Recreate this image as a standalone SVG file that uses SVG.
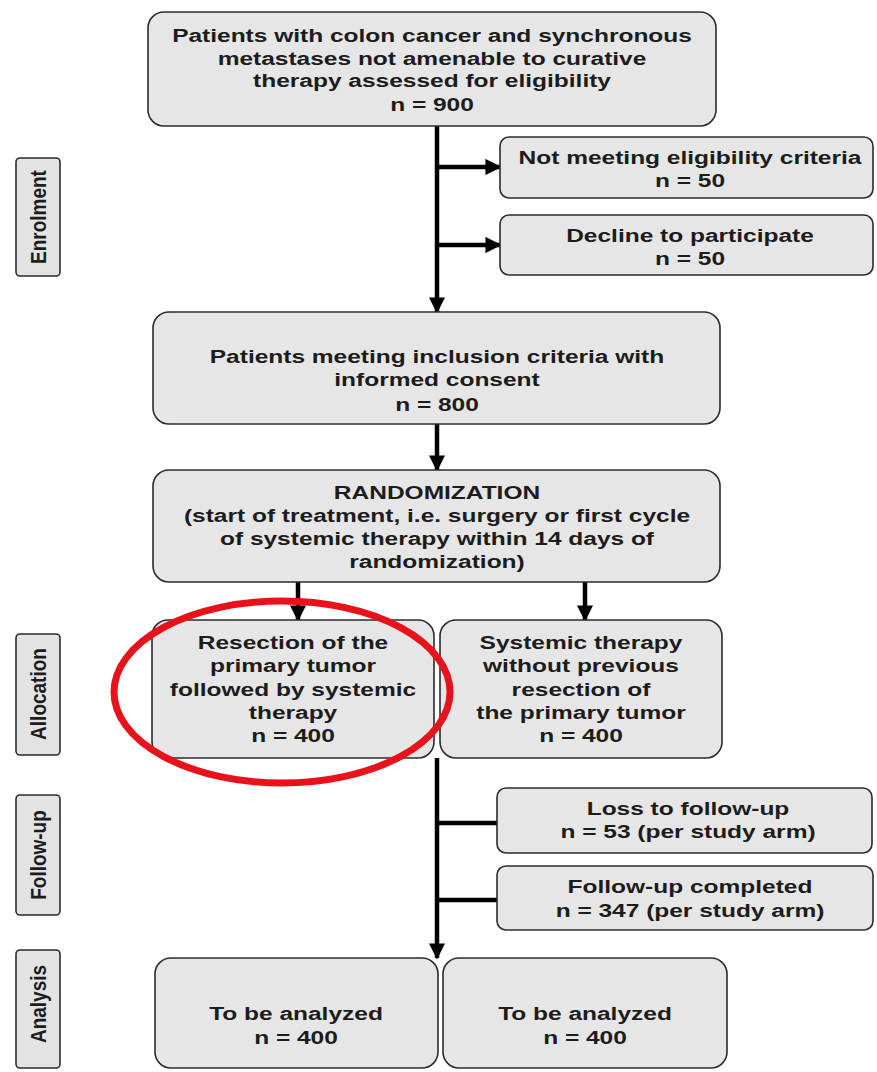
<svg xmlns="http://www.w3.org/2000/svg" width="877" height="1072" viewBox="0 0 877 1072">
<style>
.box{fill:#e6e6e6;stroke:#2b2b2b;stroke-width:1.6}
.side{fill:#e3e3e3;stroke:#2b2b2b;stroke-width:1.6}
.t{font-family:"Liberation Sans",Arial,sans-serif;font-weight:bold;font-size:19px;fill:#1c1c1c;text-anchor:middle}
.st{font-family:"Liberation Sans",Arial,sans-serif;font-weight:bold;font-size:19px;fill:#1c1c1c;text-anchor:middle}
.ln{stroke:#000;stroke-width:4.5;fill:none}
</style>
<defs>
<marker id="ah" viewBox="0 0 10 10" refX="9" refY="5" markerWidth="3.6" markerHeight="3.6" markerUnits="strokeWidth" orient="auto">
<path d="M0,0 L10,5 L0,10 Z" fill="#000"/>
</marker>
</defs>

<g id="connectors">
<line class="ln" x1="437" y1="126" x2="437" y2="312" marker-end="url(#ah)"/>
<line class="ln" x1="437" y1="167" x2="500" y2="167" marker-end="url(#ah)"/>
<line class="ln" x1="437" y1="245" x2="500" y2="245" marker-end="url(#ah)"/>
<line class="ln" x1="437" y1="424" x2="437" y2="470" marker-end="url(#ah)"/>
<line class="ln" x1="298" y1="582" x2="298" y2="620" marker-end="url(#ah)"/>
<line class="ln" x1="585" y1="582" x2="585" y2="620" marker-end="url(#ah)"/>
<line class="ln" x1="437" y1="758" x2="437" y2="958" marker-end="url(#ah)"/>
<line class="ln" x1="437" y1="823" x2="497" y2="823"/>
<line class="ln" x1="437" y1="900" x2="497" y2="900"/>
</g>

<g id="label-enrolment">
<rect class="side" x="16" y="158" width="44" height="118" rx="4"/>
<text class="st" transform="translate(38,217) scale(1.2,1) rotate(-90)" x="0" y="7">Enrolment</text>
</g>
<g id="label-allocation">
<rect class="side" x="16" y="634" width="44" height="121" rx="4"/>
<text class="st" transform="translate(38,694) scale(1.2,1) rotate(-90)" x="0" y="7">Allocation</text>
</g>
<g id="label-followup">
<rect class="side" x="16" y="795" width="44" height="120" rx="4"/>
<text class="st" transform="translate(38,855) scale(1.2,1) rotate(-90)" x="0" y="7">Follow-up</text>
</g>
<g id="label-analysis">
<rect class="side" x="16" y="950" width="44" height="118" rx="4"/>
<text class="st" transform="translate(38,1004) scale(1.2,1) rotate(-90)" x="0" y="7">Analysis</text>
</g>

<g id="assessed">
<rect class="box" x="148" y="12" width="568" height="114" rx="16"/>
<g transform="translate(432,0) scale(1.29,1)">
<text class="t" x="0" y="42">Patients with colon cancer and synchronous</text>
<text class="t" x="0" y="65">metastases not amenable to curative</text>
<text class="t" x="0" y="87">therapy assessed for eligibility</text>
<text class="t" x="0" y="111">n = 900</text>
</g>
</g>

<g id="not-eligible">
<rect class="box" x="500" y="137" width="373" height="61" rx="9"/>
<g transform="translate(690,0) scale(1.29,1)">
<text class="t" x="0" y="164">Not meeting eligibility criteria</text>
<text class="t" x="0" y="187">n = 50</text>
</g>
</g>

<g id="declined">
<rect class="box" x="500" y="215" width="373" height="60" rx="9"/>
<g transform="translate(690,0) scale(1.29,1)">
<text class="t" x="0" y="242">Decline to participate</text>
<text class="t" x="0" y="265">n = 50</text>
</g>
</g>

<g id="included">
<rect class="box" x="153" y="312" width="567" height="112" rx="16"/>
<g transform="translate(437,0) scale(1.29,1)">
<text class="t" x="0" y="363">Patients meeting inclusion criteria with</text>
<text class="t" x="0" y="386">informed consent</text>
<text class="t" x="0" y="411">n = 800</text>
</g>
</g>

<g id="randomization">
<rect class="box" x="153" y="470" width="567" height="112" rx="16"/>
<g transform="translate(437,0) scale(1.29,1)">
<text class="t" x="0" y="499">RANDOMIZATION</text>
<text class="t" x="0" y="522">(start of treatment, i.e. surgery or first cycle</text>
<text class="t" x="0" y="545">of systemic therapy within 14 days of</text>
<text class="t" x="0" y="568">randomization)</text>
</g>
</g>

<g id="arm-resection">
<rect class="box" x="152" y="620" width="282" height="138" rx="16"/>
<g transform="translate(293,0) scale(1.29,1)">
<text class="t" x="0" y="649">Resection of the</text>
<text class="t" x="0" y="672">primary tumor</text>
<text class="t" x="0" y="696">followed by systemic</text>
<text class="t" x="0" y="719">therapy</text>
<text class="t" x="0" y="742">n = 400</text>
</g>
</g>

<g id="arm-systemic">
<rect class="box" x="440" y="620" width="282" height="138" rx="16"/>
<g transform="translate(581,0) scale(1.29,1)">
<text class="t" x="0" y="649">Systemic therapy</text>
<text class="t" x="0" y="672">without previous</text>
<text class="t" x="0" y="696">resection of</text>
<text class="t" x="0" y="719">the primary tumor</text>
<text class="t" x="0" y="742">n = 400</text>
</g>
</g>

<g id="loss">
<rect class="box" x="497" y="788" width="375" height="65" rx="9"/>
<g transform="translate(688,0) scale(1.29,1)">
<text class="t" x="0" y="815">Loss to follow-up</text>
<text class="t" x="0" y="838">n = 53 (per study arm)</text>
</g>
</g>

<g id="completed">
<rect class="box" x="497" y="866" width="376" height="64" rx="9"/>
<g transform="translate(690,0) scale(1.29,1)">
<text class="t" x="0" y="893">Follow-up completed</text>
<text class="t" x="0" y="917">n = 347 (per study arm)</text>
</g>
</g>

<g id="analysis-1">
<rect class="box" x="155" y="958" width="283" height="110" rx="16"/>
<g transform="translate(296,0) scale(1.29,1)">
<text class="t" x="0" y="1020">To be analyzed</text>
<text class="t" x="0" y="1044">n = 400</text>
</g>
</g>

<g id="analysis-2">
<rect class="box" x="443" y="958" width="284" height="110" rx="16"/>
<g transform="translate(585,0) scale(1.29,1)">
<text class="t" x="0" y="1020">To be analyzed</text>
<text class="t" x="0" y="1044">n = 400</text>
</g>
</g>

<g id="highlight">
<ellipse cx="282" cy="692" rx="168" ry="91" fill="none" stroke="#e8121a" stroke-width="7"/>
</g>
</svg>
